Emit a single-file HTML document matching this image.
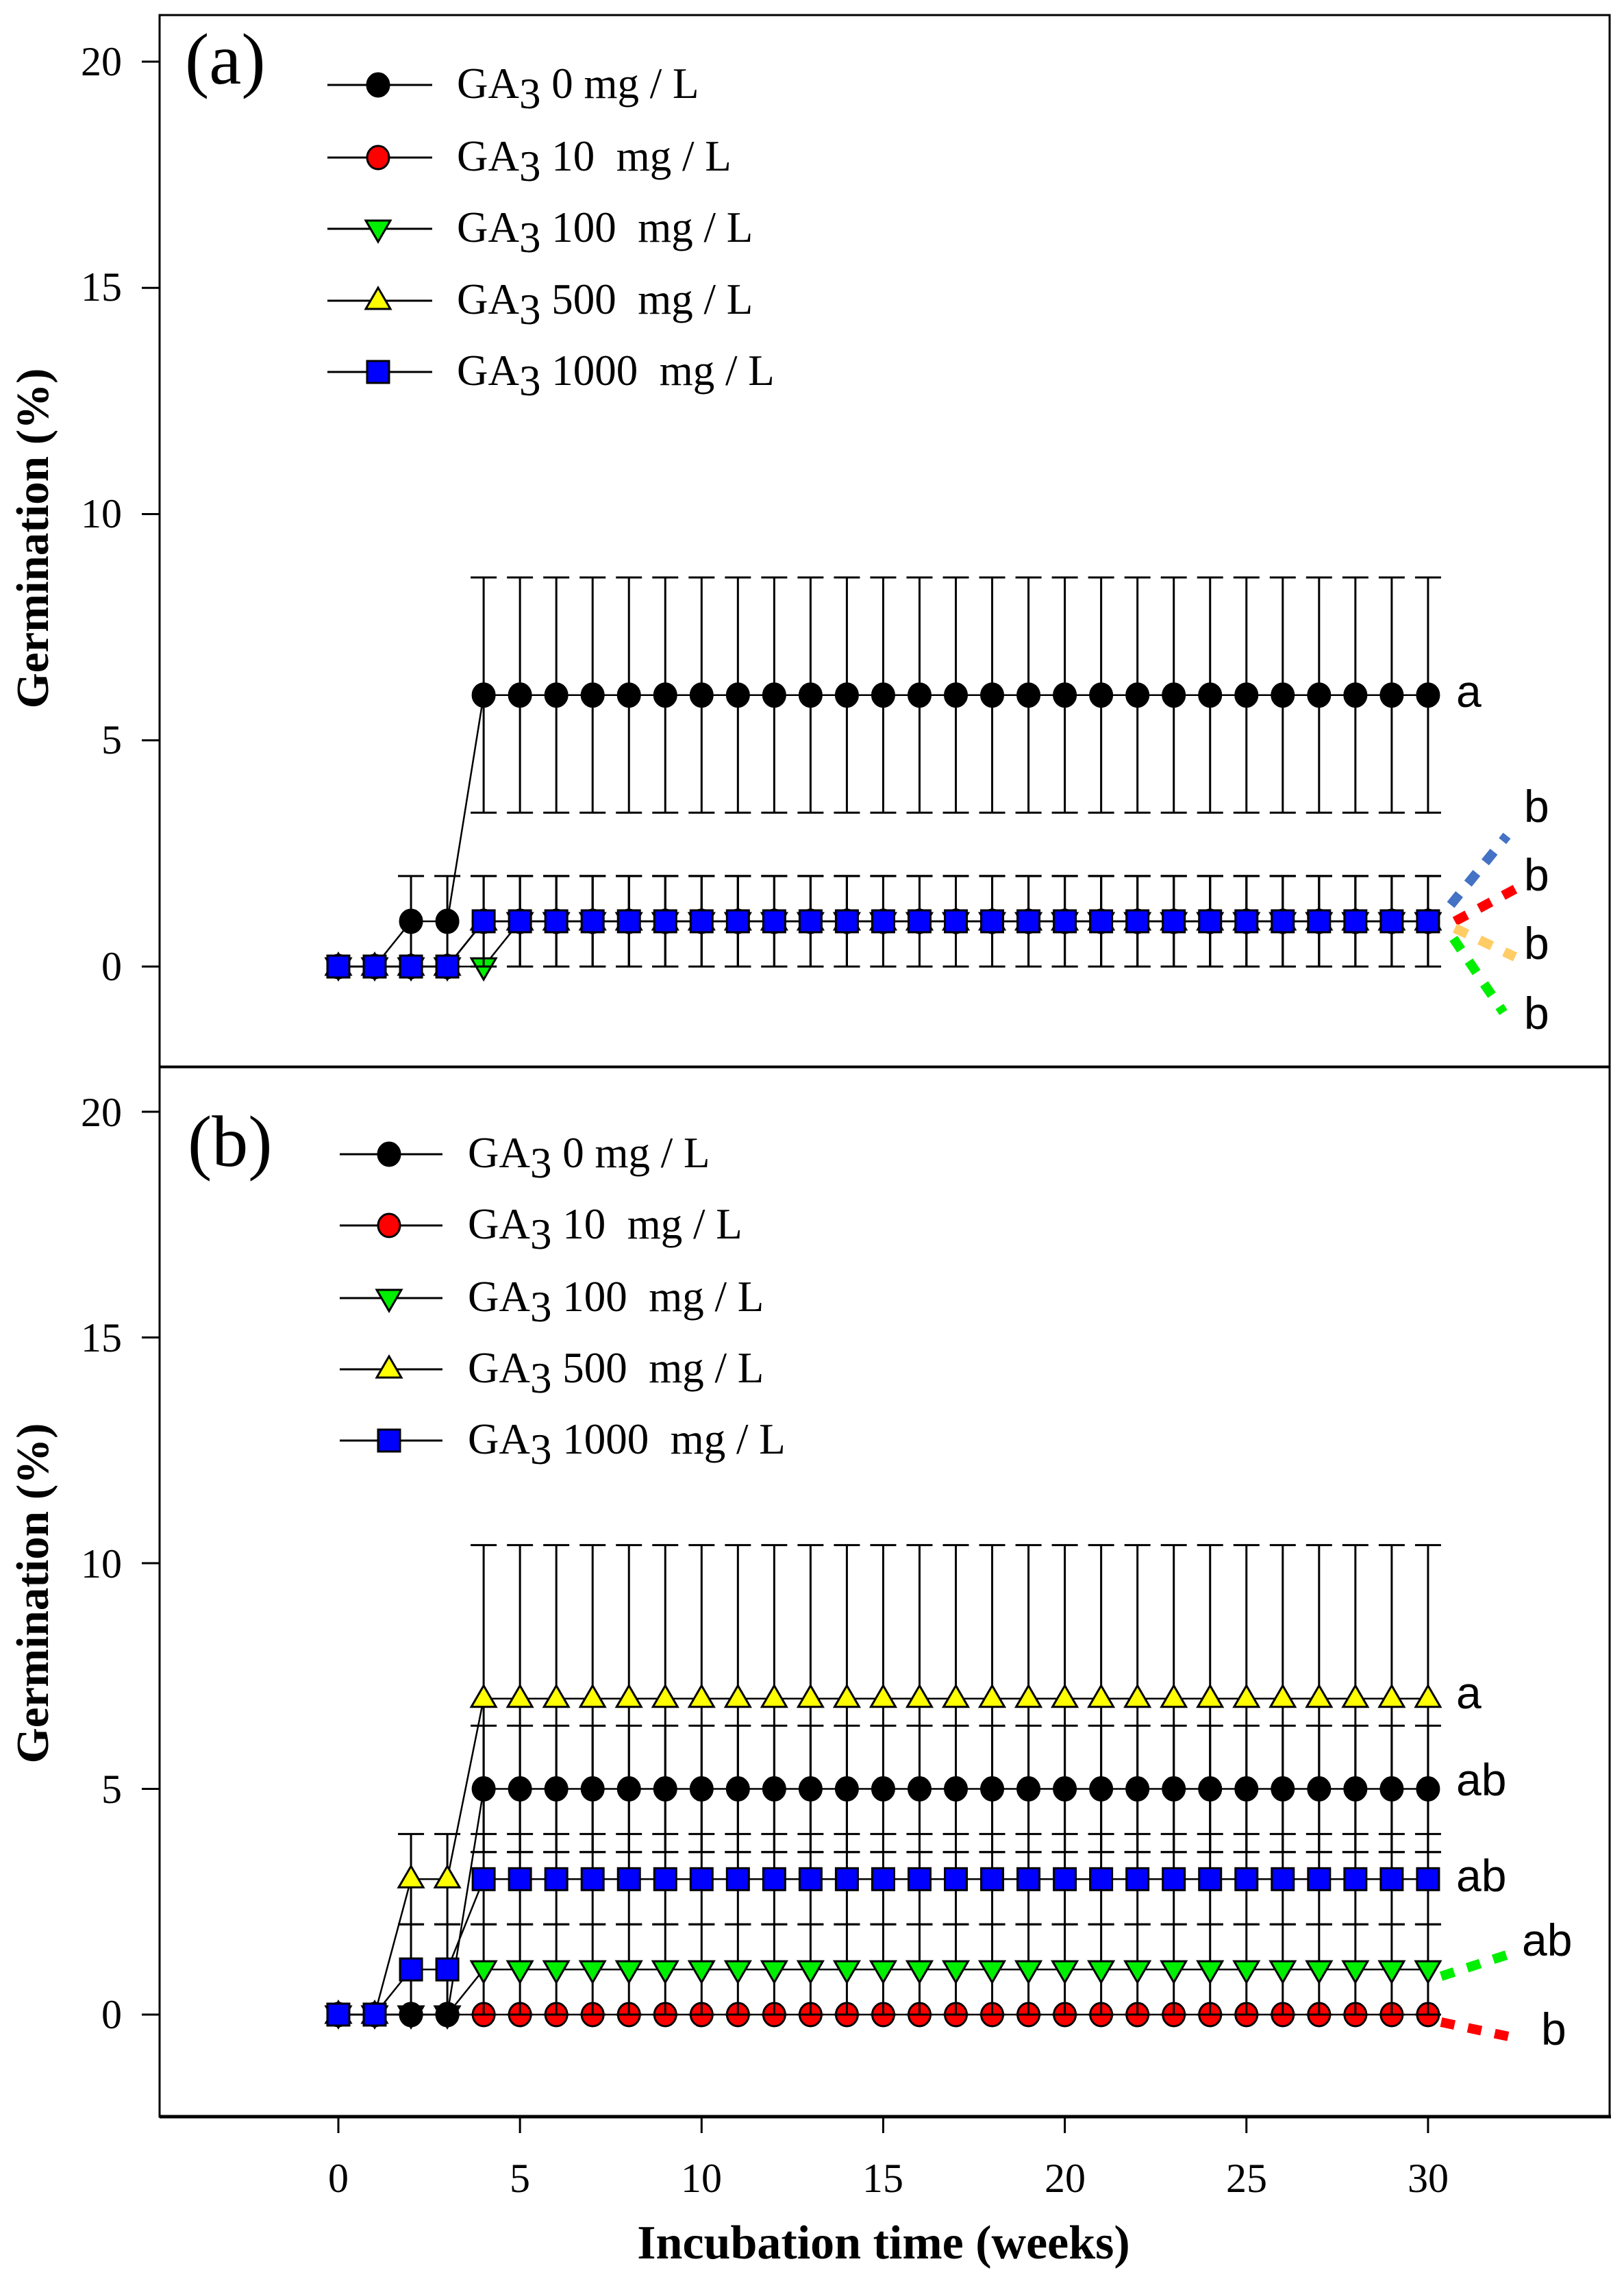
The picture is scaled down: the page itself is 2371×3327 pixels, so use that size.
<!DOCTYPE html>
<html><head><meta charset="utf-8"><style>
html,body{margin:0;padding:0;background:#fff;}
svg{display:block;}
.t{font-family:"Liberation Serif",serif;}
.s{font-family:"Liberation Sans","DejaVu Sans",sans-serif;}
</style></head><body>
<svg id="c" width="2371" height="3327" viewBox="0 0 2371 3327" xmlns="http://www.w3.org/2000/svg">
<rect x="0" y="0" width="2371" height="3327" fill="#fff"/>
<rect x="233" y="22" width="2117" height="1536" fill="none" stroke="#000" stroke-width="3"/>
<rect x="233" y="1557" width="2117" height="1533" fill="none" stroke="#000" stroke-width="3"/>
<line x1="233" y1="3090" x2="2352" y2="3090" stroke="#000" stroke-width="5"/>
<g id="g"></g>
<g class="t" font-size="60" text-anchor="end" fill="#000">
<text x="178" y="110">20</text><text x="178" y="439">15</text><text x="178" y="770">10</text><text x="178" y="1100">5</text><text x="178" y="1431">0</text>
<text x="178" y="1644">20</text><text x="178" y="1973">15</text><text x="178" y="2303">10</text><text x="178" y="2632">5</text><text x="178" y="2961">0</text>
</g>
<g class="t" font-size="60" text-anchor="middle" fill="#000">
<text x="494" y="3200">0</text><text x="759" y="3200">5</text><text x="1024" y="3200">10</text><text x="1289" y="3200">15</text><text x="1555" y="3200">20</text><text x="1820" y="3200">25</text><text x="2085" y="3200">30</text>
</g>
<text class="t" font-size="70" font-weight="bold" text-anchor="middle" x="1290" y="3297">Incubation time (weeks)</text>
<text class="t" font-size="67" font-weight="bold" text-anchor="middle" transform="translate(70,786) rotate(-90)">Germination (%)</text>
<text class="t" font-size="67" font-weight="bold" text-anchor="middle" transform="translate(70,2326) rotate(-90)">Germination (%)</text>
<text class="t" font-size="106" x="270" y="122">(a)</text>
<text class="t" font-size="106" x="274" y="1702">(b)</text>
<g class="s" font-size="66" fill="#000">
<text x="2126" y="1032">a</text>
<text x="2225" y="1200">b</text><text x="2225" y="1300">b</text><text x="2225" y="1400">b</text><text x="2225" y="1502">b</text>
<text x="2126" y="2494">a</text><text x="2126" y="2621">ab</text><text x="2126" y="2761">ab</text><text x="2222" y="2855">ab</text><text x="2250" y="2985">b</text>
</g>
<g stroke-width="14" stroke-dasharray="20 20" fill="none">
<line x1="2118" y1="1321" x2="2200" y2="1220" stroke="#4472c4"/>
<line x1="2124" y1="1345" x2="2212" y2="1298" stroke="#ff0000"/>
<line x1="2124" y1="1355" x2="2212" y2="1397" stroke="#ffcc66"/>
<line x1="2122" y1="1370" x2="2195" y2="1478" stroke="#00ee00"/>
<line x1="2104" y1="2885" x2="2212" y2="2850" stroke="#00ee00"/>
<line x1="2104" y1="2952" x2="2212" y2="2975" stroke="#ff0000"/>
</g>
</svg>
<script>
(function(){
var NS="http://www.w3.org/2000/svg",g=document.getElementById('g');
function el(n,a){var e=document.createElementNS(NS,n);for(var k in a)e.setAttribute(k,a[k]);g.appendChild(e);return e;}
function X(w){return 494+w*53.03;}
function YA(v){return 1411-66.05*v;}
function YB(v){return 2941-65.9*v;}
function mk(type,x,y,fill){
 var s={stroke:'#000','stroke-width':3,fill:fill};
 if(type=='c'){s.cx=x;s.cy=y;s.rx=16;s.ry=17;el('ellipse',s);}
 else if(type=='s'){s.x=x-16;s.y=y-16;s.width=32;s.height=32;el('rect',s);}
 else if(type=='d'){s.points=(x-18)+','+(y-12)+' '+(x+18)+','+(y-12)+' '+x+','+(y+19);el('polygon',s);}
 else if(type=='u'){s.points=(x-18)+','+(y+12)+' '+(x+18)+','+(y+12)+' '+x+','+(y-19);el('polygon',s);}
}
function series(Y,vals,err,type,fill){
 var pts=[];for(var w=0;w<=30;w++){var v=vals(w);pts.push(X(w)+','+Y(v));}
 for(var w=0;w<=30;w++){var v=vals(w),e=err(w);if(e>0){
   el('line',{x1:X(w),y1:Y(v+e),x2:X(w),y2:Y(v-e),stroke:'#000','stroke-width':3});
   el('line',{x1:X(w)-19,y1:Y(v+e),x2:X(w)+19,y2:Y(v+e),stroke:'#000','stroke-width':3});
   el('line',{x1:X(w)-19,y1:Y(v-e),x2:X(w)+19,y2:Y(v-e),stroke:'#000','stroke-width':3});}}
 el('polyline',{points:pts.join(' '),fill:'none',stroke:'#000','stroke-width':2.5});
 for(var w=0;w<=30;w++)mk(type,X(w),Y(vals(w)),fill);
}
series(YA,function(w){return w<4?0:1},function(w){return w<4?0:1},'c','#ff0000');
series(YA,function(w){return w<5?0:1},function(w){return w<5?0:1},'d','#00ee00');
series(YA,function(w){return w<4?0:1},function(w){return 0},'u','#ffff00');
series(YA,function(w){return w<2?0:(w<4?1:6)},function(w){return w<2?0:(w<4?1:2.6)},'c','#000');
series(YA,function(w){return w<4?0:1},function(w){return w<4?0:1},'s','#0000ff');
series(YB,function(w){return 0},function(w){return 0},'c','#ff0000');
series(YB,function(w){return w<4?0:1},function(w){return w<4?0:1},'d','#00ee00');
series(YB,function(w){return w<4?0:5},function(w){return w<4?0:1.4},'c','#000');
series(YB,function(w){return w<2?0:(w<4?3:7)},function(w){return w<2?0:(w<4?1:3.4)},'u','#ffff00');
series(YB,function(w){return w<2?0:(w<4?1:3)},function(w){return w<2?0:1},'s','#0000ff');
function leg(x1,x2,mx,tx,ys){
 var types=[['c','#000','0 mg / L'],['c','#ff0000','10\u00a0\u00a0mg / L'],['d','#00ee00','100\u00a0\u00a0mg / L'],['u','#ffff00','500\u00a0\u00a0mg / L'],['s','#0000ff','1000\u00a0\u00a0mg / L']];
 for(var i=0;i<5;i++){var y=ys[i];
  el('line',{x1:x1,y1:y,x2:x2,y2:y,stroke:'#000','stroke-width':3});
  mk(types[i][0],mx,y,types[i][1]);
  var t=el('text',{x:tx,y:y+19,'font-size':63,'class':'t',fill:'#000'});
  t.textContent='GA';
  var s=document.createElementNS(NS,'tspan');s.setAttribute('dy','15');s.textContent='3';t.appendChild(s);
  var s2=document.createElementNS(NS,'tspan');s2.setAttribute('dy','-15');s2.textContent='\u00a0'+types[i][2];t.appendChild(s2);
 }
}
leg(478,631,552,667,[124,230,334,439,543]);
leg(496,646,568,683,[1685,1789,1895,1999,2103]);
[0,5,10,15,20,25,30].forEach(function(w){el('line',{x1:X(w),y1:3090,x2:X(w),y2:3114,stroke:'#000','stroke-width':3});});
[0,5,10,15,20].forEach(function(v){el('line',{x1:207,y1:YA(v),x2:233,y2:YA(v),stroke:'#000','stroke-width':3});el('line',{x1:207,y1:YB(v),x2:233,y2:YB(v),stroke:'#000','stroke-width':3});});
})();
</script>
</body></html>
